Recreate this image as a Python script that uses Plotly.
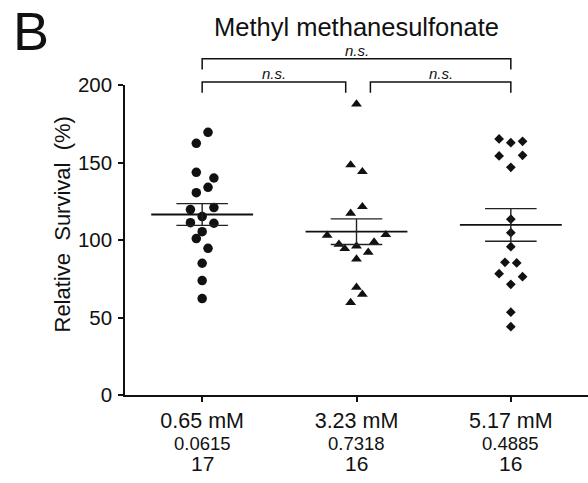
import numpy as np
import plotly.graph_objects as go

# Treatment groups (MMS concentration), p-values and sample sizes
doses = ["0.65 mM", "3.23 mM", "5.17 mM"]
p_values = ["0.0615", "0.7318", "0.4885"]
n_counts = ["17", "16", "16"]

# Relative survival (%) of individual samples per group
survival_065 = [169.5, 162.4, 143.7, 140.0, 134.0, 130.5, 119.6, 120.9, 115.1,
                111.2, 110.8, 105.4, 100.9, 94.6, 85.0, 73.8, 62.2]
survival_323 = [187.7, 148.4, 144.1, 121.5, 117.2, 103.0, 103.4, 97.2, 98.7,
                94.4, 96.1, 92.1, 87.7, 69.5, 65.0, 59.6]
survival_517 = [165.2, 162.8, 163.7, 154.2, 154.6, 146.9, 113.4, 104.7, 95.7,
                85.6, 85.2, 78.3, 76.3, 71.4, 53.4, 44.1]

# Horizontal scatter slots used to keep overlapping points apart
slots_065 = [1, -1, -1, 2, 1, -1, -2, 2, 0, -2, 2, 0, -1, 1, 0, 0, 0]
slots_323 = [0, -1, 1, 1, -1, -5, 5, -3, 3, -2, 0, 2, 0, 0, 1, -1]
slots_517 = [-2, 0, 2, -2, 2, 0, 0, 0, 0, -1, 1, -2, 2, 0, 0, 0]

groups = [survival_065, survival_323, survival_517]
slots = [slots_065, slots_323, slots_517]
symbols = ["circle", "triangle-up", "diamond"]
sizes = [9.5, 9.5, 7.5]

FONT = "Liberation Sans, Arial, Helvetica, sans-serif"
INK = "#111111"
SLOT_W = 0.038
Y_MIN, Y_MAX = 0, 200

fig = go.Figure()

for i, (vals, sl) in enumerate(zip(groups, slots)):
    fig.add_trace(go.Scatter(
        x=[i + s * SLOT_W for s in sl], y=vals, mode="markers",
        marker=dict(symbol=symbols[i], size=sizes[i], color=INK, line=dict(width=0)),
        showlegend=False, hoverinfo="y",
    ))

# Mean line and SEM whiskers for each group
for i, vals in enumerate(groups):
    arr = np.asarray(vals)
    m = arr.mean()
    sem = arr.std(ddof=1) / np.sqrt(arr.size)
    fig.add_trace(go.Scatter(
        x=[i - 0.33, i + 0.33], y=[m, m], mode="lines",
        line=dict(color=INK, width=1.8), showlegend=False, hoverinfo="skip",
    ))
    fig.add_trace(go.Scatter(
        x=[i - 0.167, i + 0.167, None, i - 0.167, i + 0.167, None, i, i],
        y=[m + sem, m + sem, None, m - sem, m - sem, None, m - sem, m + sem],
        mode="lines", line=dict(color="#222222", width=1.4),
        showlegend=False, hoverinfo="skip",
    ))


def to_paper(v):
    return (v - Y_MIN) / (Y_MAX - Y_MIN)


# Significance brackets above the plot: (x_left, x_right, top level, leg end)
brackets = [
    (0.0, 2.0, 217, 210),
    (0.0, 0.93, 202, 195),
    (1.09, 2.0, 202, 195),
]
for x0, x1, top, leg in brackets:
    fig.add_shape(
        type="path", xref="x", yref="paper",
        path=f"M {x0},{to_paper(leg)} L {x0},{to_paper(top)} L {x1},{to_paper(top)} L {x1},{to_paper(leg)}",
        line=dict(color=INK, width=1.5),
    )
    fig.add_annotation(
        x=(x0 + x1) / 2, y=to_paper(top), xref="x", yref="paper",
        text="<i>n.s.</i>", showarrow=False, yanchor="bottom", yshift=-2,
        font=dict(family=FONT, size=15, color=INK),
    )

# Second and third rows of the category labels
for i in range(3):
    fig.add_annotation(
        x=i, y=0, xref="x", yref="paper", text=p_values[i], showarrow=False,
        yanchor="middle", yshift=-48, font=dict(family=FONT, size=18.5, color=INK),
    )
    fig.add_annotation(
        x=i, y=0, xref="x", yref="paper", text=n_counts[i], showarrow=False,
        yanchor="middle", yshift=-68, font=dict(family=FONT, size=21, color=INK),
    )

# Y-axis title
fig.add_annotation(
    x=0, y=0.55, xref="paper", yref="paper", text="Relative\u00a0 Survival\u00a0 (%)",
    textangle=-90, showarrow=False, xanchor="center", yanchor="middle", xshift=-63,
    font=dict(family=FONT, size=22, color=INK),
)

# Panel letter and chart title
fig.add_annotation(
    x=0, y=1, xref="paper", yref="paper", text="B", showarrow=False,
    xanchor="left", yanchor="top", xshift=-125 + 11, yshift=85 + 1,
    font=dict(family=FONT, size=54, color=INK),
)
fig.add_annotation(
    x=1, y=to_paper(Y_MAX), xref="x", yref="paper", text="Methyl methanesulfonate",
    showarrow=False, yanchor="middle", yshift=58,
    font=dict(family=FONT, size=25.5, color=INK),
)

axis_common = dict(
    showline=True, linecolor=INK, linewidth=1.5, ticks="outside", ticklen=5,
    tickwidth=1.5, tickcolor=INK, showgrid=False, zeroline=False,
)
fig.update_xaxes(range=[-0.5, 2.5], tickvals=[0, 1, 2], ticktext=doses,
                 tickfont=dict(family=FONT, size=21.5, color=INK), **axis_common)
fig.update_yaxes(range=[Y_MIN, Y_MAX], tickvals=[0, 50, 100, 150, 200], ticklabelstandoff=2,
                 tickfont=dict(family=FONT, size=20.5, color=INK), **axis_common)

fig.update_layout(
    width=588, height=483,
    margin=dict(l=125, r=0, t=85, b=88),
    paper_bgcolor="white", plot_bgcolor="white",
    font=dict(family=FONT, color=INK),
)

fig.write_html("out.html")
